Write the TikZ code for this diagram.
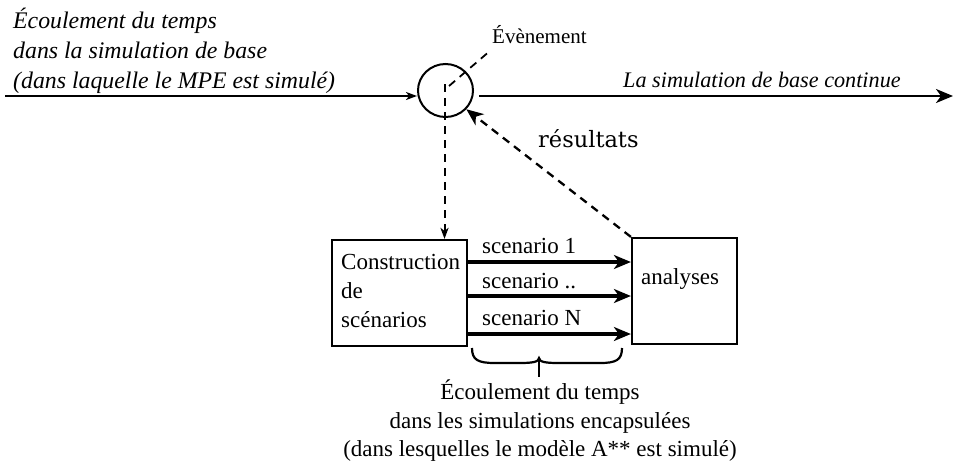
\documentclass[tikz,border=0pt]{standalone}
\usepackage{fontspec}
\setmainfont{Liberation Serif}
\newfontfamily\dvs{DejaVu Serif}
\usetikzlibrary{arrows.meta,shapes.geometric,calc}
\begin{document}
\begin{tikzpicture}[x=1pt,y=-1pt,
  lbl/.style={inner sep=0pt, font=\fontsize{23}{28}\selectfont},
  ilbl/.style={inner sep=0pt, font=\fontsize{23.8}{28}\selectfont\itshape},
  boxst/.style={draw, line width=2.2pt, inner sep=0pt},
  bigtip/.style={-{Stealth[length=17pt,width=14pt,inset=5pt]}},
  smalltip/.style={-{Stealth[length=11pt,width=8pt,inset=3pt]}},
  dsh/.style={dash pattern=on 8pt off 6pt}]
\useasboundingbox (0,0) rectangle (953,464);
% top-left text
\node[ilbl, anchor=base west] (t1) at (13,28) {Écoulement du temps};
\node[ilbl, anchor=base west] (t2) at (13,58) {dans la simulation de base};
\node[ilbl, anchor=base west] (t3) at (13,88) {(dans laquelle le MPE est simulé)};
% event circle
\node[draw, ellipse, line width=2pt, minimum width=55pt, minimum height=53pt, inner sep=0pt] (ev) at (445.5,90.5) {};
\coordinate (in) at (5,96);
\coordinate (out) at (953,96);
\draw[line width=1.7pt, smalltip] (in) -- (ev.west |- in);
\draw[line width=2.3pt, bigtip, shorten <=5pt] (ev.east |- out) -- (out);
\node[inner sep=0pt, anchor=base west, font=\fontsize{22.2}{26}\selectfont\itshape] (cont) at (623,87) {La simulation de base continue};
% evenement label
\node[inner sep=0pt, anchor=base west, font=\fontsize{21}{26}\selectfont] (evl) at (492,43) {Évènement};
\coordinate (evs) at (449,86);
\coordinate (eve) at (491,50);
\draw[line width=1.8pt, dsh] (evs) -- (eve);
% boxes
\node[boxst, minimum width=135pt, minimum height=106pt] (cons) at (399.5,293) {};
\node[boxst, minimum width=105pt, minimum height=106pt] (ana) at (684.5,291) {};
\node[lbl, anchor=base west] (c1) at (341,269) {Construction};
\node[lbl, anchor=base west] (c2) at (341,298) {de};
\node[lbl, anchor=base west] (c3) at (341,327) {scénarios};
\node[lbl, anchor=base west] (a1) at (641,284) {analyses};
% vertical dashed arrow
\coordinate (vs) at (444.5,84);
\draw[line width=2pt, dsh, -{Stealth[length=11pt,width=8pt,inset=3pt]}] (vs) -- (vs |- cons.north);
% resultats
\draw[line width=2.3pt, dsh, bigtip] (ana.north west) -- (ev.-42);
\node[inner sep=0pt, anchor=base west, font=\fontsize{22.5}{26}\dvs] (res) at (538,147) {résultats};
% scenario arrows
\foreach \yy/\txt/\bl in {262/scenario 1/253, 296/scenario ../288, 334/scenario N/325}{
  \draw[line width=3.2pt, bigtip] (cons.east |- 0,\yy) -- (ana.west |- 0,\yy);
  \node[lbl, anchor=base west] at (482,\bl) {\txt};
}
% brace
\draw[line width=2.2pt] (472,348) .. controls (472,360) and (478,363) .. (495,363)
  -- (520,363) .. controls (532,363) and (539,362) .. (539,358)
  .. controls (539,362) and (546,363) .. (558,363)
  -- (600,363) .. controls (616,363) and (622,360) .. (622,348);
\coordinate (bt) at (539,358);
\coordinate (bb) at (539,377);
\draw[line width=2.2pt] (bt) -- (bb);
% bottom text
\node[lbl, anchor=base] (b1) at (540,399) {Écoulement du temps};
\node[lbl, anchor=base] (b2) at (540,428) {dans les simulations encapsulées};
\node[lbl, anchor=base] (b3) at (540,456) {(dans lesquelles le modèle A** est simulé)};
\end{tikzpicture}
\end{document}
